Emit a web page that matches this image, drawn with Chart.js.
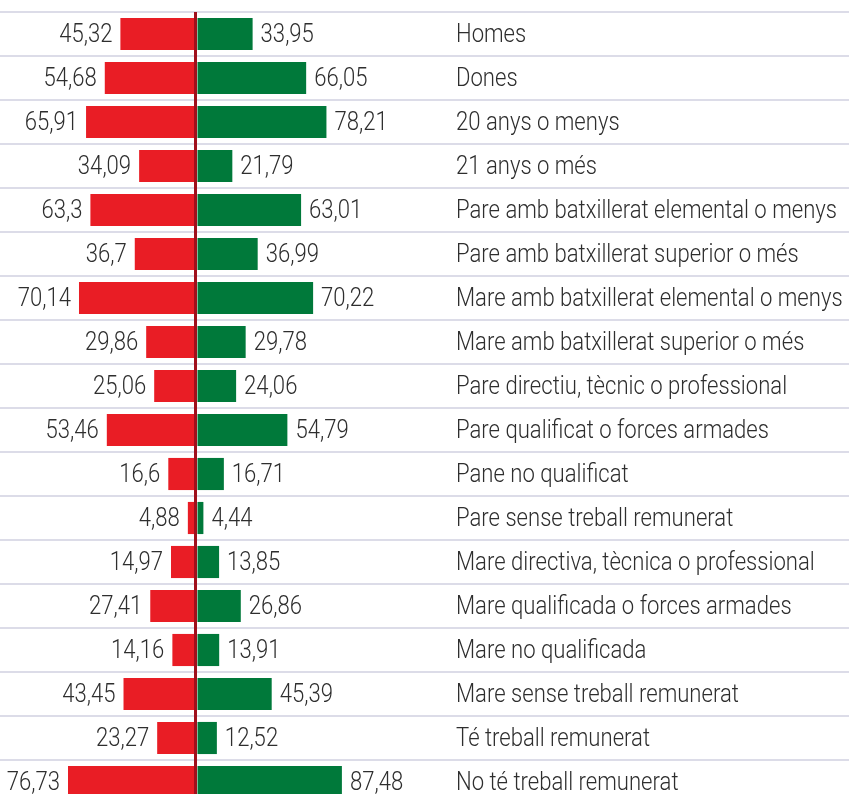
<!DOCTYPE html>
<html>
<head>
<meta charset="utf-8">
<script src="https://cdn.jsdelivr.net/npm/chart.js@4.4.0/dist/chart.umd.min.js"></script>
<style>
  html, body { margin: 0; padding: 0; background: #fff; overflow: hidden; }
  #wrap { width: 849px; height: 804px; position: relative; }
</style>
</head>
<body>
<div id="wrap"><canvas id="grafic"></canvas></div>
<script>
var categories = ["Homes", "Dones", "20 anys o menys", "21 anys o més",
    "Pare amb batxillerat elemental o menys", "Pare amb batxillerat superior o més",
    "Mare amb batxillerat elemental o menys", "Mare amb batxillerat superior o més",
    "Pare directiu, tècnic o professional", "Pare qualificat o forces armades",
    "Pane no qualificat", "Pare sense treball remunerat",
    "Mare directiva, tècnica o professional", "Mare qualificada o forces armades",
    "Mare no qualificada", "Mare sense treball remunerat",
    "Té treball remunerat", "No té treball remunerat"];
var valorsVermell = [45.32, 54.68, 65.91, 34.09, 63.3, 36.7, 70.14, 29.86, 25.06, 53.46, 16.6, 4.88, 14.97, 27.41, 14.16, 43.45, 23.27, 76.73];
var valorsVerd = [33.95, 66.05, 78.21, 21.79, 63.01, 36.99, 70.22, 29.78, 24.06, 54.79, 16.71, 4.44, 13.85, 26.86, 13.91, 45.39, 12.52, 87.48];

var font = "300 25px Roboto, 'DejaVu Sans', sans-serif";

function fmt(v) {
    return String(v).replace('.', ',');
}

// text estret: la font original és condensada
function textEstret(ctx, txt, x, y, align, sx) {
    ctx.save();
    ctx.translate(x, y);
    ctx.scale(sx, 1);
    ctx.textAlign = align;
    ctx.fillText(txt, 0, 0);
    ctx.restore();
}

var etiquetes = {
    id: 'etiquetes',
    afterDatasetsDraw: function (chart) {
        var ctx = chart.ctx;
        var y = chart.scales.y;
        ctx.save();
        ctx.font = font;
        ctx.fillStyle = '#2e2e2e';
        ctx.textBaseline = 'middle';
        // "Pare amb batxillerat elemental o menys" fa uns 381px a l'original
        var sx = 381 / ctx.measureText(categories[4]).width;
        chart.getDatasetMeta(0).data.forEach(function (bar, i) {
            textEstret(ctx, fmt(valorsVermell[i]), bar.x - 8, bar.y + 2, 'right', sx);
        });
        chart.getDatasetMeta(1).data.forEach(function (bar, i) {
            textEstret(ctx, fmt(valorsVerd[i]), bar.x + 8, bar.y + 2, 'left', sx);
        });
        categories.forEach(function (c, i) {
            textEstret(ctx, c, 456, y.getPixelForValue(i) + 2, 'left', sx);
        });
        ctx.restore();
    }
};

var ctx = document.getElementById('grafic').getContext('2d');
var grafic = new Chart(ctx, {
    type: 'bar',
    data: {
        labels: categories,
        datasets: [
            {
                label: 'vermell',
                data: valorsVermell.map(function (v) { return -v; }),
                backgroundColor: '#e91d25',
                barPercentage: 0.73,
                categoryPercentage: 1
            },
            {
                label: 'verd',
                data: valorsVerd,
                backgroundColor: '#00793a',
                barPercentage: 0.73,
                categoryPercentage: 1
            }
        ]
    },
    options: {
        indexAxis: 'y',
        responsive: true,
        maintainAspectRatio: false,
        animation: false,
        layout: { padding: { top: 12, left: 0, right: 0, bottom: 0 } },
        plugins: {
            legend: { display: false },
            tooltip: { enabled: false }
        },
        scales: {
            x: {
                stacked: true,
                min: -117.5,
                max: 391.5,
                afterBuildTicks: function (axis) { axis.ticks = [{ value: 0 }]; },
                ticks: { display: false },
                border: { display: false },
                grid: { color: '#a0101c', lineWidth: 3, drawTicks: false, z: 1 }
            },
            y: {
                stacked: true,
                ticks: { display: false },
                border: { display: false },
                grid: { offset: true, color: '#dcdce8', lineWidth: 2, drawTicks: false }
            }
        }
    },
    plugins: [etiquetes]
});
</script>
</body>
</html>
